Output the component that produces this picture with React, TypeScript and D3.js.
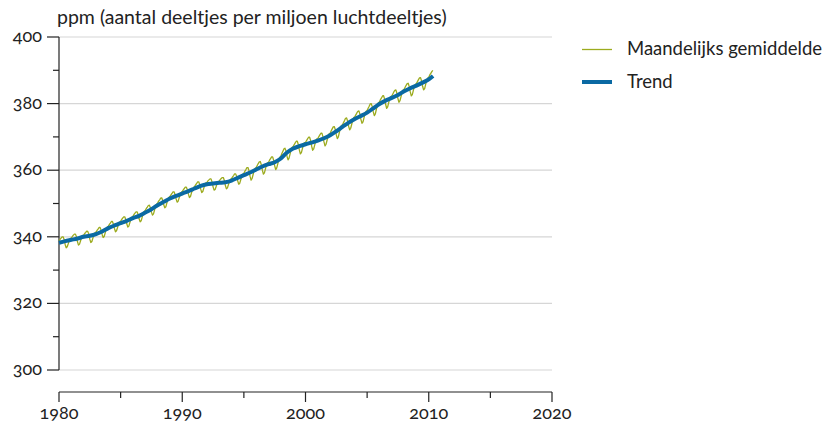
import React from "react";
import * as d3 from "d3";

// Monthly mean CO2 concentration (ppm), January 1980 onward, one row per year
const monthly1980s = [
  338.7, 339.2, 339.6, 340.0, 340.0, 339.2, 337.7, 336.7, 337.0, 337.9, 338.9, 339.5,
  339.6, 340.1, 340.5, 340.8, 340.8, 340.0, 338.5, 337.5, 337.8, 338.8, 339.8, 340.4,
  340.5, 341.0, 341.3, 341.7, 341.6, 340.8, 339.3, 338.3, 338.6, 339.6, 340.6, 341.2,
  341.4, 341.9, 342.3, 342.8, 342.8, 342.0, 340.7, 339.8, 340.1, 341.2, 342.3, 342.9,
  343.2, 343.7, 344.1, 344.6, 344.6, 343.8, 342.5, 341.5, 341.8, 342.8, 343.8, 344.4,
  344.7, 345.2, 345.6, 346.0, 346.0, 345.2, 343.9, 342.9, 343.2, 344.3, 345.3, 345.9,
  346.2, 346.7, 347.1, 347.5, 347.5, 346.7, 345.4, 344.5, 344.8, 345.9, 347.0, 347.6,
  347.9, 348.5, 348.9, 349.4, 349.5, 348.7, 347.4, 346.5, 346.9, 348.0, 349.1, 349.8,
  350.1, 350.7, 351.1, 351.6, 351.7, 350.9, 349.6, 348.7, 349.0, 350.1, 351.2, 351.8,
  352.1, 352.6, 353.0, 353.5, 353.5, 352.7, 351.4, 350.4, 350.7, 351.7, 352.7, 353.3,
];
const monthly1990s = [
  353.6, 354.1, 354.5, 354.9, 354.9, 354.1, 352.8, 351.8, 352.1, 353.2, 354.2, 354.8,
  355.1, 355.6, 356.0, 356.5, 356.5, 355.7, 354.3, 353.3, 353.6, 354.6, 355.6, 356.2,
  356.3, 356.8, 357.1, 357.4, 357.4, 356.5, 355.0, 354.0, 354.2, 355.1, 356.1, 356.6,
  356.7, 357.2, 357.5, 357.8, 357.8, 356.9, 355.4, 354.4, 354.7, 355.7, 356.7, 357.3,
  357.5, 358.0, 358.4, 358.9, 358.9, 358.1, 356.8, 355.8, 356.1, 357.2, 358.2, 358.8,
  359.1, 359.7, 360.2, 360.8, 360.8, 359.8, 358.2, 357.0, 357.5, 358.7, 360.0, 360.6,
  360.8, 361.4, 362.0, 362.5, 362.6, 361.6, 360.0, 358.8, 359.2, 360.4, 361.6, 362.2,
  362.4, 363.0, 363.5, 364.0, 364.0, 363.0, 361.3, 360.2, 360.7, 361.9, 363.2, 363.9,
  364.2, 365.0, 365.7, 366.4, 366.6, 365.8, 364.2, 363.1, 363.6, 364.9, 366.2, 366.9,
  367.1, 367.7, 368.2, 368.7, 368.7, 367.7, 366.1, 364.9, 365.3, 366.5, 367.7, 368.3,
];
const monthly2000s = [
  368.3, 368.9, 369.4, 369.9, 369.9, 368.9, 367.2, 366.0, 366.4, 367.6, 368.8, 369.4,
  369.5, 370.1, 370.6, 371.1, 371.1, 370.1, 368.5, 367.3, 367.8, 369.0, 370.3, 370.9,
  371.1, 371.8, 372.4, 373.0, 373.1, 372.2, 370.6, 369.5, 370.0, 371.4, 372.7, 373.4,
  373.6, 374.3, 374.9, 375.6, 375.7, 374.8, 373.2, 372.1, 372.6, 373.8, 375.1, 375.8,
  376.0, 376.6, 377.2, 377.7, 377.8, 376.8, 375.2, 374.1, 374.5, 375.8, 377.1, 377.7,
  377.9, 378.6, 379.2, 379.9, 380.0, 379.1, 377.5, 376.4, 376.9, 378.3, 379.6, 380.3,
  380.5, 381.2, 381.7, 382.3, 382.4, 381.4, 379.8, 378.6, 379.0, 380.3, 381.5, 382.1,
  382.3, 382.9, 383.5, 384.0, 384.1, 383.1, 381.5, 380.4, 380.9, 382.1, 383.4, 384.1,
  384.3, 384.9, 385.5, 386.0, 386.1, 385.1, 383.5, 382.3, 382.7, 384.0, 385.2, 385.8,
  386.0, 386.6, 387.2, 387.7, 387.8, 386.8, 385.2, 384.1, 384.5, 385.8, 387.1, 387.7,
];
const monthly2010s = [387.9, 388.6, 389.1, 389.6, 390.0];

// Trend (deseasonalised), sampled at 1 January and 1 July of each year
const trendTimes = [
  1980, 1980.5, 1981, 1981.5, 1982, 1982.5, 1983, 1983.5, 1984, 1984.5,
  1985, 1985.5, 1986, 1986.5, 1987, 1987.5, 1988, 1988.5, 1989, 1989.5,
  1990, 1990.5, 1991, 1991.5, 1992, 1992.5, 1993, 1993.5, 1994, 1994.5,
  1995, 1995.5, 1996, 1996.5, 1997, 1997.5, 1998, 1998.5, 1999, 1999.5,
  2000, 2000.5, 2001, 2001.5, 2002, 2002.5, 2003, 2003.5, 2004, 2004.5,
  2005, 2005.5, 2006, 2006.5, 2007, 2007.5, 2008, 2008.5, 2009, 2009.5,
  2010, 2010.35,
];
const trendValues = [
  338.2, 338.7, 339.1, 339.5, 340.0, 340.3, 340.8, 341.6, 342.6, 343.4,
  344.1, 344.8, 345.6, 346.3, 347.3, 348.3, 349.5, 350.5, 351.5, 352.3,
  353.0, 353.7, 354.5, 355.3, 355.8, 356.0, 356.2, 356.4, 356.9, 357.7,
  358.5, 359.3, 360.2, 361.1, 361.8, 362.4, 363.5, 365.3, 366.5, 367.2,
  367.8, 368.3, 368.9, 369.6, 370.5, 371.7, 373.0, 374.3, 375.4, 376.3,
  377.3, 378.6, 379.9, 380.9, 381.7, 382.6, 383.7, 384.6, 385.4, 386.3,
  387.3, 388.3,
];

const xTicksMajor = ["1980", "1990", "2000", "2010", "2020"];
const xTicksMinor = [1985, 1995, 2005, 2015];
const yTicksMajor = ["300", "320", "340", "360", "380", "400"];
const yTicksMinor = [310, 330, 350, 370, 390];

const yTitle = "ppm (aantal deeltjes per miljoen luchtdeeltjes)";
const legendLabels = ["Maandelijks gemiddelde", "Trend"];

const GREEN = "#9cab1e";
const BLUE = "#0a69a3";
const INK = "#222";

export default function App() {
  const W = 823;
  const H = 424;
  const left = 59;
  const right = 552;
  const top = 37;
  const bottom = 370;
  const xAxisY = 392;

  const x = d3.scaleLinear().domain([1980, 2020]).range([left, right]);
  const y = d3.scaleLinear().domain([300, 400]).range([bottom, top]);

  const monthly = [...monthly1980s, ...monthly1990s, ...monthly2000s, ...monthly2010s];
  const monthlyPts: [number, number][] = monthly.map((v, i) => [1980 + i / 12, v]);
  const trendPts: [number, number][] = trendTimes.map((t, i) => [t, trendValues[i]]);

  const line = d3
    .line<[number, number]>()
    .x((d) => x(d[0]))
    .y((d) => y(d[1]));
  const trendLine = d3
    .line<[number, number]>()
    .x((d) => x(d[0]))
    .y((d) => y(d[1]))
    .curve(d3.curveMonotoneX);

  const FS = 18;
  const ts: React.CSSProperties = { fontFamily: "Lato", fontFeatureSettings: "'onum' 1" };

  return (
    <svg width={W} height={H} style={{ position: "absolute", left: 0, top: 0 }}>
      {/* gridlines */}
      {yTicksMajor.map((t) => (
        <line key={"g" + t} x1={left} x2={right} y1={y(+t)} y2={y(+t)} stroke="#d6d6d6" strokeWidth={1.2} />
      ))}
      {/* y axis */}
      <line x1={left} x2={left} y1={y(400)} y2={y(300)} stroke={INK} strokeWidth={1.2} />
      {yTicksMajor.map((t) => (
        <line key={"ym" + t} x1={left - 12} x2={left} y1={y(+t)} y2={y(+t)} stroke={INK} strokeWidth={1.2} />
      ))}
      {yTicksMinor.map((t) => (
        <line key={"yn" + t} x1={left - 6} x2={left} y1={y(t)} y2={y(t)} stroke={INK} strokeWidth={1.2} />
      ))}
      {yTicksMajor.map((t) => (
        <text key={"yl" + t} x={42} y={y(+t) + 5} textAnchor="end" fontSize={FS} fill={INK} style={ts}>
          {t}
        </text>
      ))}
      <text x={57} y={24} fontSize={19.5} fill={INK} style={ts}>
        {yTitle}
      </text>

      {/* x axis */}
      <line x1={left} x2={right} y1={xAxisY} y2={xAxisY} stroke={INK} strokeWidth={1.2} />
      {xTicksMajor.map((t) => (
        <line key={"xm" + t} x1={x(+t)} x2={x(+t)} y1={xAxisY} y2={xAxisY + 10} stroke={INK} strokeWidth={1.2} />
      ))}
      {xTicksMinor.map((t) => (
        <line key={"xn" + t} x1={x(t)} x2={x(t)} y1={xAxisY} y2={xAxisY + 6} stroke={INK} strokeWidth={1.2} />
      ))}
      {xTicksMajor.map((t) => (
        <text key={"xl" + t} x={x(+t)} y={419} textAnchor="middle" fontSize={FS} fill={INK} style={ts}>
          {t}
        </text>
      ))}

      {/* series */}
      <path d={line(monthlyPts) || ""} fill="none" stroke={GREEN} strokeWidth={1.3} strokeLinejoin="round" />
      <path d={trendLine(trendPts) || ""} fill="none" stroke={BLUE} strokeWidth={4} strokeLinejoin="round" />

      {/* legend */}
      <line x1={582} x2={612} y1={49.5} y2={49.5} stroke={GREEN} strokeWidth={1.3} />
      <text x={627} y={55} fontSize={18.5} fill={INK} style={ts}>
        {legendLabels[0]}
      </text>
      <line x1={582} x2={612} y1={82} y2={82} stroke={BLUE} strokeWidth={4} />
      <text x={627} y={88} fontSize={18.5} fill={INK} style={ts}>
        {legendLabels[1]}
      </text>
    </svg>
  );
}
